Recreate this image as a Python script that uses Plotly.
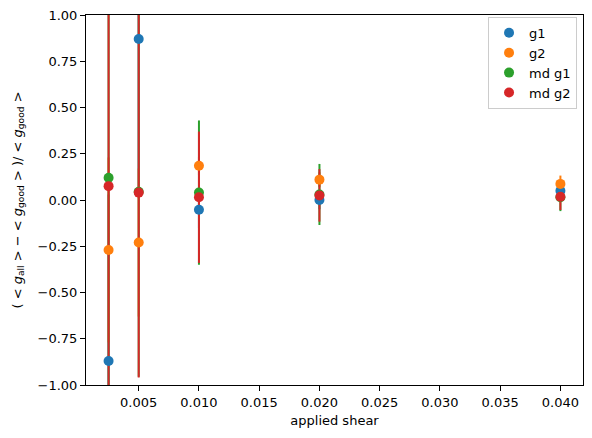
import plotly.graph_objects as go

# applied shear values
shear = [0.0025, 0.005, 0.010, 0.020, 0.040]

# relative difference (<g_all> - <g_good>) / <g_good>
g1 = [-0.87, 0.87, -0.053, 0.0, 0.05]
g1_err = [0.9, 0.8, 0.10, 0.05, 0.03]
g2 = [-0.27, -0.23, 0.185, 0.11, 0.087]
g2_err = [0.5, 0.4, 0.05, 0.04, 0.045]
md_g1 = [0.12, 0.045, 0.04, 0.03, 0.015]
md_g1_err = [1.6, 1.0, 0.39, 0.165, 0.075]
md_g2 = [0.075, 0.04, 0.015, 0.025, 0.018]
md_g2_err = [1.6, 1.0, 0.355, 0.142, 0.072]

series = [
    ("g1", g1, g1_err, "#1f77b4"),
    ("g2", g2, g2_err, "#ff7f0e"),
    ("md g1", md_g1, md_g1_err, "#2ca02c"),
    ("md g2", md_g2, md_g2_err, "#d62728"),
]

FONT = "DejaVu Sans"

fig = go.Figure()

# error bars first so that all markers sit on top
for name, y, err, color in series:
    fig.add_trace(go.Scatter(
        x=shear, y=y,
        mode="markers",
        marker=dict(size=0.1, color=color, opacity=0),
        error_y=dict(type="data", array=err, color=color, thickness=2, width=0),
        showlegend=False,
        hoverinfo="skip",
    ))

for name, y, err, color in series:
    fig.add_trace(go.Scatter(
        x=shear, y=y,
        mode="markers",
        name=name,
        marker=dict(size=10, color=color),
    ))

axis_style = dict(
    showline=True, linecolor="black", linewidth=1, mirror=True,
    showgrid=False, zeroline=False, automargin=False,
    ticks="outside", ticklen=5, tickwidth=1, tickcolor="black",
    tickfont=dict(family=FONT, size=13, color="black"),
)

fig.update_xaxes(
    range=[0.000625, 0.041875],
    tickvals=[0.005, 0.010, 0.015, 0.020, 0.025, 0.030, 0.035, 0.040],
    tickformat=".3f",
    title=dict(text="applied shear", font=dict(family=FONT, size=13, color="black"), standoff=7),
    **axis_style,
)
fig.update_yaxes(
    range=[-1.0, 1.0],
    tickvals=[-1.0, -0.75, -0.5, -0.25, 0.0, 0.25, 0.5, 0.75, 1.0],
    tickformat=".2f",
    title=dict(
        text="( &lt; <i>g</i><sub>all</sub> &gt; − &lt; <i>g</i><sub>good</sub> &gt; )/ &lt; <i>g</i><sub>good</sub> &gt;",
        font=dict(family=FONT, size=13, color="black"),
        standoff=12,
    ),
    **axis_style,
)

fig.update_layout(
    width=592, height=438,
    margin=dict(l=86, r=9, t=15, b=53),
    paper_bgcolor="white", plot_bgcolor="white",
    font=dict(family=FONT, size=13, color="black"),
    legend=dict(
        x=0.988, y=0.995, xanchor="right", yanchor="top",
        bgcolor="rgba(255,255,255,0.8)", bordercolor="#cccccc", borderwidth=1,
        font=dict(family=FONT, size=13), tracegroupgap=0,
        itemwidth=30,
    ),
)

fig.write_html(
    "out.html",
    config={"displayModeBar": False},
    post_script="document.body.style.margin='0';",
)
